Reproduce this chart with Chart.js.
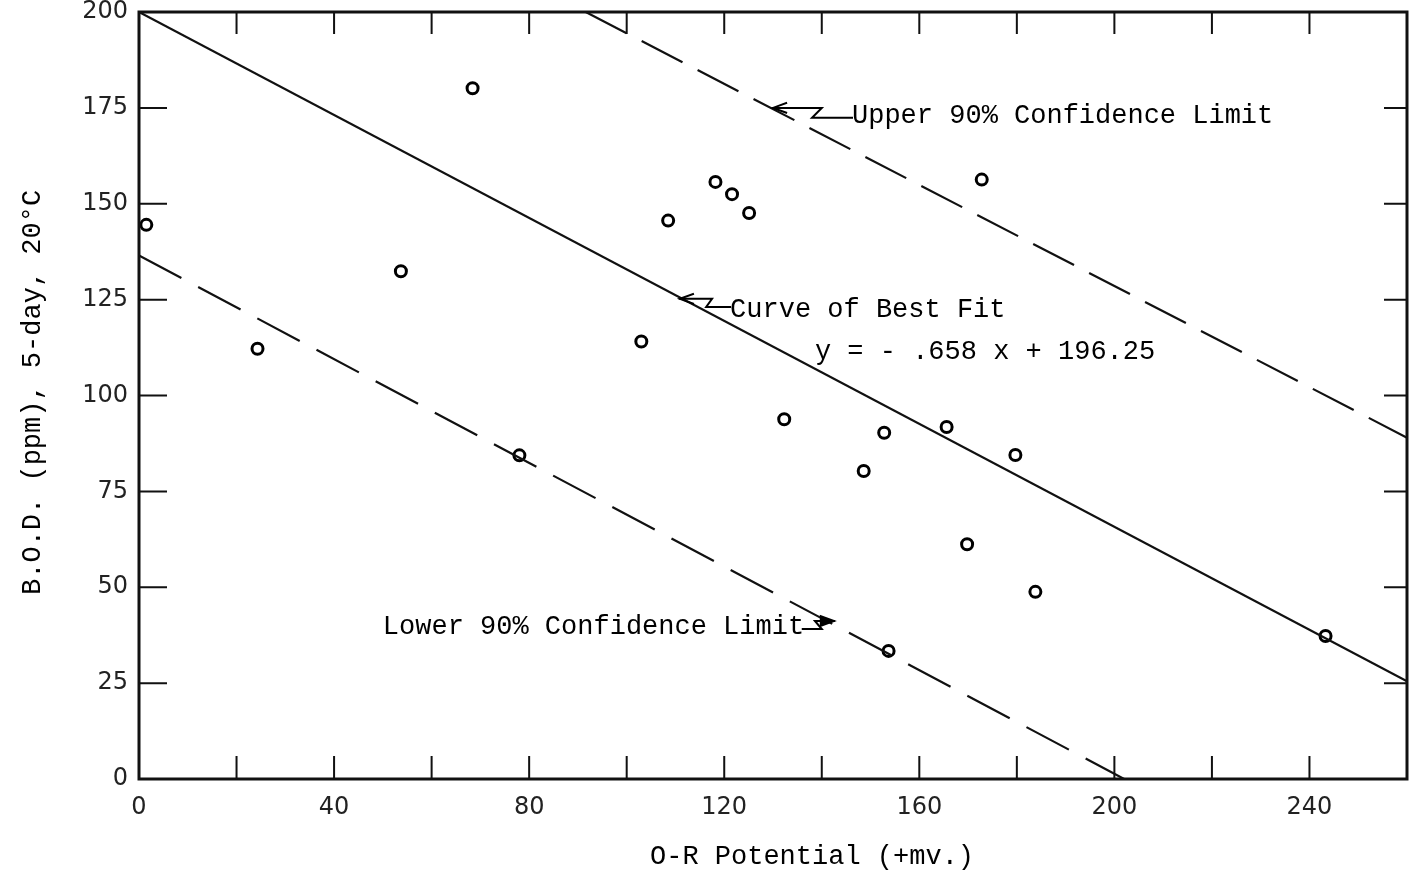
<!DOCTYPE html>
<html>
<head>
<meta charset="utf-8">
<title>B.O.D. vs O-R Potential</title>
<script src="https://cdn.jsdelivr.net/npm/chart.js@4.4.1/dist/chart.umd.min.js"></script>
<style>
  html, body { margin: 0; padding: 0; background: #fff; }
  canvas { display: block; }
</style>
</head>
<body>
<canvas id="grafico" width="1416" height="880"></canvas>
<script>
// ---------------- DATA ----------------
const orPotential = [1.5, 24.3, 53.7, 68.4, 78, 103, 108.5, 118.2, 121.6, 125.1,
  132.3, 148.6, 152.8, 153.7, 165.6, 169.8, 172.8, 179.7, 183.8, 243.3];
const bod5day = [144.5, 112.2, 132.4, 180.1, 84.4, 114.1, 145.6, 155.7, 152.5, 147.6,
  93.8, 80.3, 90.3, 33.4, 91.8, 61.2, 156.3, 84.5, 48.8, 37.3];

// lines as drawn on the sheet (end points)
const bestFitX = [0, 260];
const bestFitY = [200, 25.5];
const upperX = [91.6, 260];
const upperY = [200, 89];
const lowerX = [0, 202];
const lowerY = [136.5, 0];

// axes
const xMin = 0, xMax = 260, xStep = 20, xLabelEvery = 40;
const yMin = 0, yMax = 200, yStep = 25;

const xTitle = "O-R Potential (+mv.)";
const yTitle = "B.O.D. (ppm), 5-day, 20°C";

// ---------------- HELPERS ----------------
const pares = (xs, ys) => xs.map((x, i) => ({ x, y: ys[i] }));

const MONO = "'Liberation Mono', 'DejaVu Sans Mono', monospace";
const SANS = "'DejaVu Sans', sans-serif";

// annotations (data coordinates)
const notas = [
  { text: "Upper 90% Confidence Limit", x: 146.2, y: 172.9,
    path: [[146.2, 172.4], [138.0, 172.4], [140.0, 175.0], [130.0, 175.0]], head: "open" },
  { text: "Curve of Best Fit", x: 121.2, y: 122.3,
    path: [[121.2, 123.1], [116.3, 123.1], [117.5, 125.2], [110.9, 125.2]], head: "open" },
  { text: "y = - .658 x + 196.25", x: 138.6, y: 111.3 },
  { text: "Lower 90% Confidence Limit", x: 50.0, y: 39.6,
    path: [[136.1, 39.1], [140.0, 39.1], [138.6, 41.2], [142.5, 41.2]], head: "filled" }
];

// ---------------- FRAME / TICKS / TEXT ----------------
const molduraPlugin = {
  id: "moldura",
  afterDatasetsDraw(chart) {
    const { ctx, chartArea: a, scales } = chart;
    const sx = scales.x, sy = scales.y;
    ctx.save();
    ctx.strokeStyle = "#111";
    ctx.lineCap = "square";

    // frame
    ctx.lineWidth = 3;
    ctx.strokeRect(a.left, a.top, a.right - a.left, a.bottom - a.top);

    // inward ticks
    ctx.lineWidth = 2;
    ctx.beginPath();
    sx.ticks.forEach(t => {
      if (t.value <= xMin || t.value >= xMax) return;
      const px = sx.getPixelForValue(t.value);
      ctx.moveTo(px, a.bottom); ctx.lineTo(px, a.bottom - 22);
      ctx.moveTo(px, a.top); ctx.lineTo(px, a.top + 21);
    });
    sy.ticks.forEach(t => {
      if (t.value <= yMin || t.value >= yMax) return;
      const py = sy.getPixelForValue(t.value);
      ctx.moveTo(a.left, py); ctx.lineTo(a.left + 27, py);
      ctx.moveTo(a.right, py); ctx.lineTo(a.right - 22, py);
    });
    ctx.stroke();

    // annotations
    ctx.fillStyle = "#000";
    ctx.strokeStyle = "#000";
    ctx.font = "27px " + MONO;
    ctx.textBaseline = "middle";
    ctx.textAlign = "left";
    notas.forEach(n => {
      ctx.fillText(n.text, sx.getPixelForValue(n.x), sy.getPixelForValue(n.y));
      if (!n.path) return;
      const pts = n.path.map(p => [sx.getPixelForValue(p[0]), sy.getPixelForValue(p[1])]);
      ctx.lineWidth = 2;
      ctx.beginPath();
      pts.forEach((p, i) => i ? ctx.lineTo(p[0], p[1]) : ctx.moveTo(p[0], p[1]));
      ctx.stroke();
      // arrow head
      const tip = pts[pts.length - 1], prev = pts[pts.length - 2];
      const ang = Math.atan2(tip[1] - prev[1], tip[0] - prev[0]);
      const L = 14;
      const p1 = [tip[0] - L * Math.cos(ang - 0.35), tip[1] - L * Math.sin(ang - 0.35)];
      const p2 = [tip[0] - L * Math.cos(ang + 0.35), tip[1] - L * Math.sin(ang + 0.35)];
      ctx.beginPath();
      ctx.moveTo(p1[0], p1[1]); ctx.lineTo(tip[0], tip[1]); ctx.lineTo(p2[0], p2[1]);
      if (n.head === "filled") { ctx.closePath(); ctx.fill(); }
      ctx.stroke();
    });

    // axis titles
    ctx.textAlign = "center";
    ctx.fillText(xTitle, sx.getPixelForValue(138), 857);
    ctx.save();
    ctx.translate(33, sy.getPixelForValue(100.8));
    ctx.rotate(-Math.PI / 2);
    ctx.fillText(yTitle, 0, 0);
    ctx.restore();

    ctx.restore();
  }
};

// ---------------- CHART ----------------
const ctx = document.getElementById("grafico");

new Chart(ctx, {
  type: "scatter",
  data: {
    datasets: [
      {
        label: "Curve of Best Fit",
        type: "line",
        data: pares(bestFitX, bestFitY),
        borderColor: "#111",
        borderWidth: 2.2,
        pointRadius: 0,
        fill: false
      },
      {
        label: "Upper 90% Confidence Limit",
        type: "line",
        data: pares(upperX, upperY),
        borderColor: "#111",
        borderWidth: 2.2,
        borderDash: [46, 17],
        pointRadius: 0,
        fill: false
      },
      {
        label: "Lower 90% Confidence Limit",
        type: "line",
        data: pares(lowerX, lowerY),
        borderColor: "#111",
        borderWidth: 2.2,
        borderDash: [48, 19],
        pointRadius: 0,
        fill: false
      },
      {
        label: "Observations",
        data: pares(orPotential, bod5day),
        pointStyle: "circle",
        pointRadius: 5.5,
        borderColor: "#000",
        borderWidth: 3,
        backgroundColor: "rgba(0,0,0,0)"
      }
    ]
  },
  options: {
    responsive: false,
    animation: false,
    devicePixelRatio: 1,
    layout: { padding: { top: 12, right: 9, left: 0, bottom: 0 } },
    plugins: {
      legend: { display: false },
      tooltip: { enabled: false }
    },
    scales: {
      x: {
        type: "linear",
        min: xMin,
        max: xMax,
        afterFit: s => {
          s.height = 101;
          s.paddingLeft = 0;
          s.paddingRight = 0;
        },
        grid: { display: false, drawTicks: false },
        border: { display: false },
        ticks: {
          stepSize: xStep,
          padding: 17,
          maxRotation: 0,
          autoSkip: false,
          color: "#222",
          font: { family: SANS, size: 24, lineHeight: 1 },
          callback: v => (v % xLabelEvery === 0 && v < xMax ? v : "")
        }
      },
      y: {
        type: "linear",
        min: yMin,
        max: yMax,
        afterFit: s => {
          s.width = 139;
          s.paddingTop = 0;
          s.paddingBottom = 0;
        },
        grid: { display: false, drawTicks: false },
        border: { display: false },
        ticks: {
          stepSize: yStep,
          padding: 11,
          color: "#222",
          font: { family: SANS, size: 24, lineHeight: 1 }
        }
      }
    }
  },
  plugins: [molduraPlugin]
});
</script>
</body>
</html>
